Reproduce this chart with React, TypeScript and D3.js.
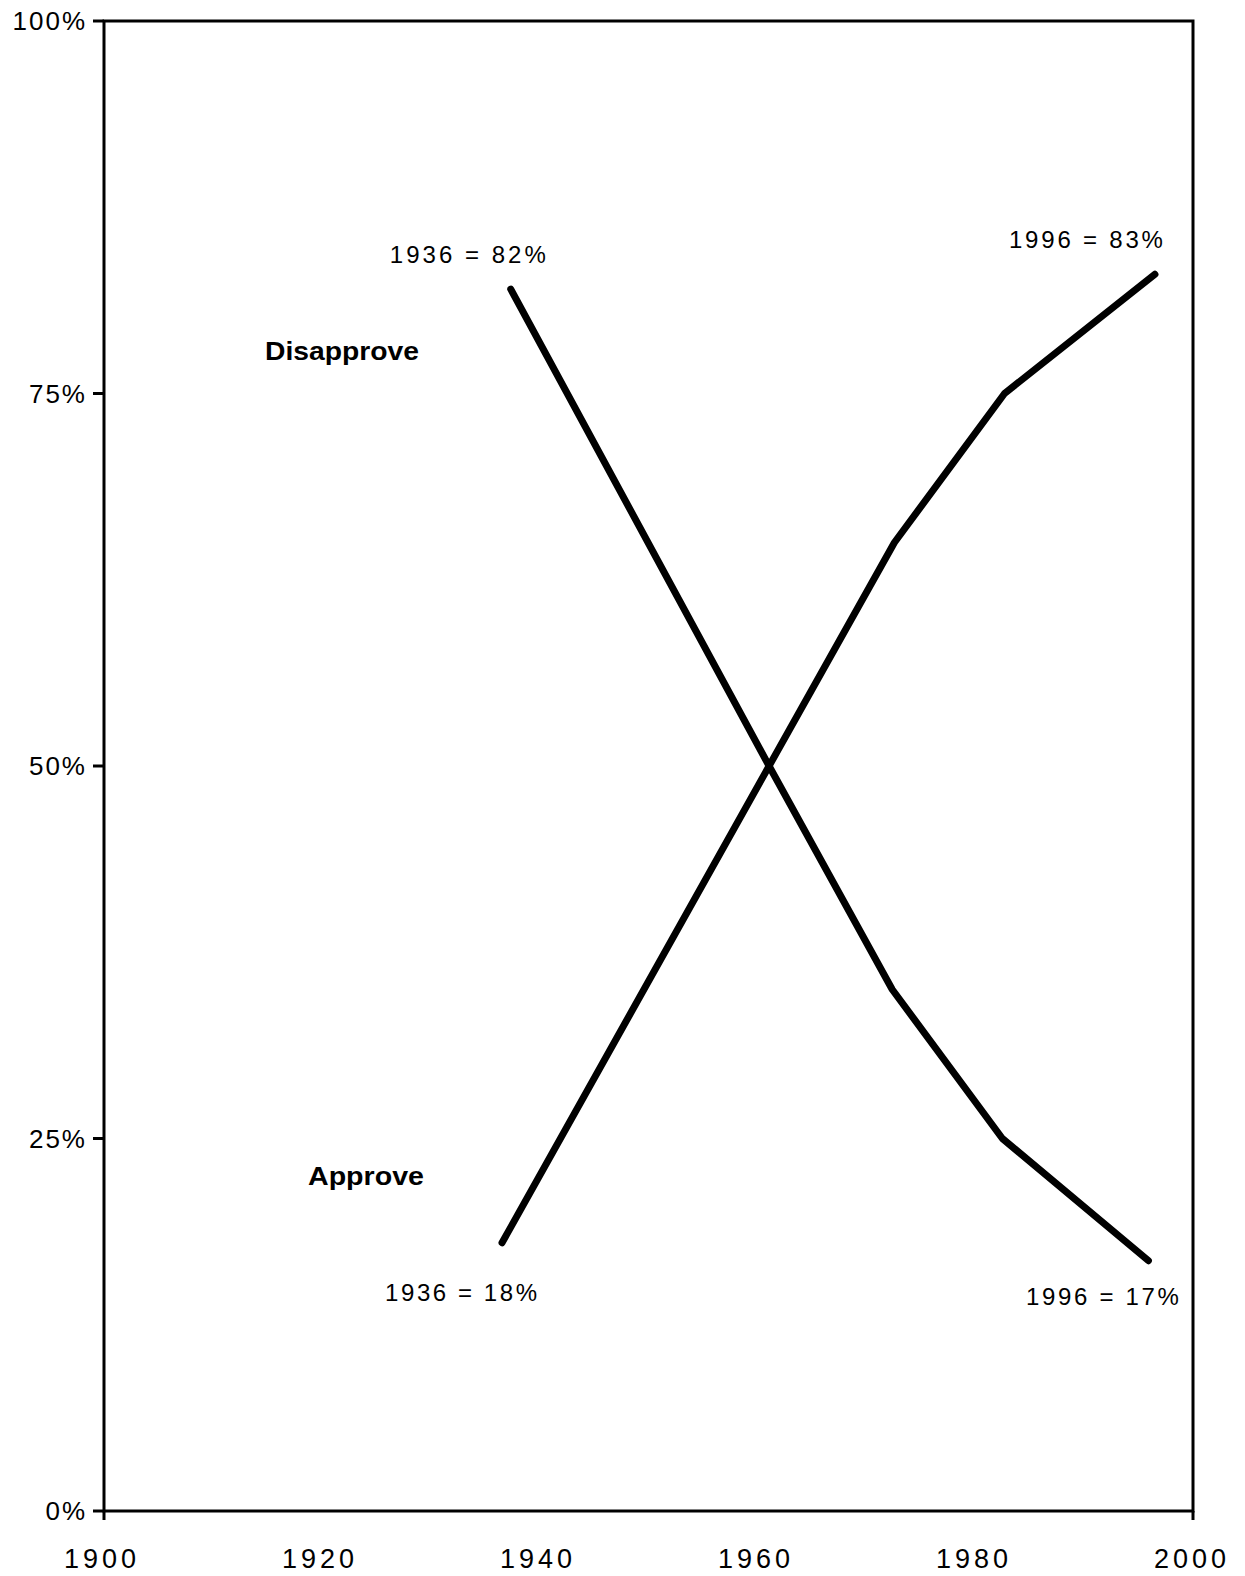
import React from "react";
import * as d3 from "d3";

const xTicks = [1900, 1920, 1940, 1960, 1980, 2000];
const yTicks = [0, 25, 50, 75, 100];
const yTickLabels = ["0%", "25%", "50%", "75%", "100%"];

const approveYears = [1936.7, 1961.2, 1972.7, 1982.8, 1996.6];
const approveValues = [18, 50, 65, 75, 83];
const disapproveYears = [1937.5, 1961.2, 1972.5, 1982.6, 1996.0];
const disapproveValues = [82, 50, 35, 25, 16.8];

const annotations = [
  { text: "1936 = 82%", year: 1937.5, value: 82 },
  { text: "1996 = 83%", year: 1996.6, value: 83 },
  { text: "1936 = 18%", year: 1936.7, value: 18 },
  { text: "1996 = 17%", year: 1996.0, value: 16.8 },
];

const W = 1245;
const H = 1576;
const left = 104;
const right = 1193;
const top = 21;
const bottom = 1511;

export default function App() {
  const x = d3.scaleLinear().domain([1900, 2000]).range([102, 1192]);
  const y = d3.scaleLinear().domain([0, 100]).range([bottom, top]);
  const line = d3
    .line<[number, number]>()
    .x((d) => x(d[0]))
    .y((d) => y(d[1]));
  const approve = approveYears.map((yr, i) => [yr, approveValues[i]] as [number, number]);
  const disapprove = disapproveYears.map((yr, i) => [yr, disapproveValues[i]] as [number, number]);
  const font = "'Liberation Sans', Arial, Helvetica, sans-serif";

  const annPos = [
    { cx: x(annotations[0].year) - 43, cy: y(annotations[0].value) - 35, w: 156 },
    { cx: x(annotations[1].year) - 69, cy: y(annotations[1].value) - 35, w: 154 },
    { cx: x(annotations[2].year) - 41, cy: y(annotations[2].value) + 50, w: 152 },
    { cx: x(annotations[3].year) - 46, cy: y(annotations[3].value) + 36, w: 153 },
  ];

  return (
    <svg
      width={W}
      height={H}
      style={{ position: "absolute", left: 0, top: 0, background: "#fff" }}
      fontFamily={font}
    >
      <rect x={0} y={0} width={W} height={H} fill="#fff" />
      <rect
        x={left}
        y={top}
        width={right - left}
        height={bottom - top}
        fill="none"
        stroke="#000"
        strokeWidth={3}
      />
      {yTicks.map((t, i) => (
        <g key={"y" + t}>
          <line x1={left - 11} x2={left} y1={y(t)} y2={y(t)} stroke="#000" strokeWidth={3} />
          <text
            x={87}
            y={y(t)}
            dy="0.36em"
            textAnchor="end"
            fontSize={26}
            letterSpacing={2}
            fill="#000"
          >
            {yTickLabels[i]}
          </text>
        </g>
      ))}
      {[xTicks[0], xTicks[xTicks.length - 1]].map((t) => (
        <line key={"xt" + t} x1={t === 1900 ? left : right} x2={t === 1900 ? left : right} y1={bottom} y2={bottom + 9} stroke="#000" strokeWidth={3} />
      ))}
      {xTicks.map((t) => (
        <text
          key={"x" + t}
          x={x(t)}
          y={1558}
          dy="0.36em"
          textAnchor="middle"
          fontSize={27}
          letterSpacing={4}
          fill="#000"
        >
          {t}
        </text>
      ))}
      <path d={line(disapprove) || ""} fill="none" stroke="#000" strokeWidth={7} strokeLinejoin="round" strokeLinecap="round" />
      <path d={line(approve) || ""} fill="none" stroke="#000" strokeWidth={7} strokeLinejoin="round" strokeLinecap="round" />
      {annotations.map((a, i) => (
        <text
          key={a.text}
          x={annPos[i].cx - annPos[i].w / 2}
          y={annPos[i].cy}
          dy="0.36em"
          fontSize={24}
          textLength={annPos[i].w}
          lengthAdjust="spacing"
          fill="#000"
        >
          {a.text}
        </text>
      ))}
      <text x={265} y={351} dy="0.36em" fontSize={25} fontWeight="bold" textLength={154} lengthAdjust="spacingAndGlyphs" fill="#000">
        Disapprove
      </text>
      <text x={308} y={1176} dy="0.36em" fontSize={25} fontWeight="bold" textLength={116} lengthAdjust="spacingAndGlyphs" fill="#000">
        Approve
      </text>
    </svg>
  );
}
